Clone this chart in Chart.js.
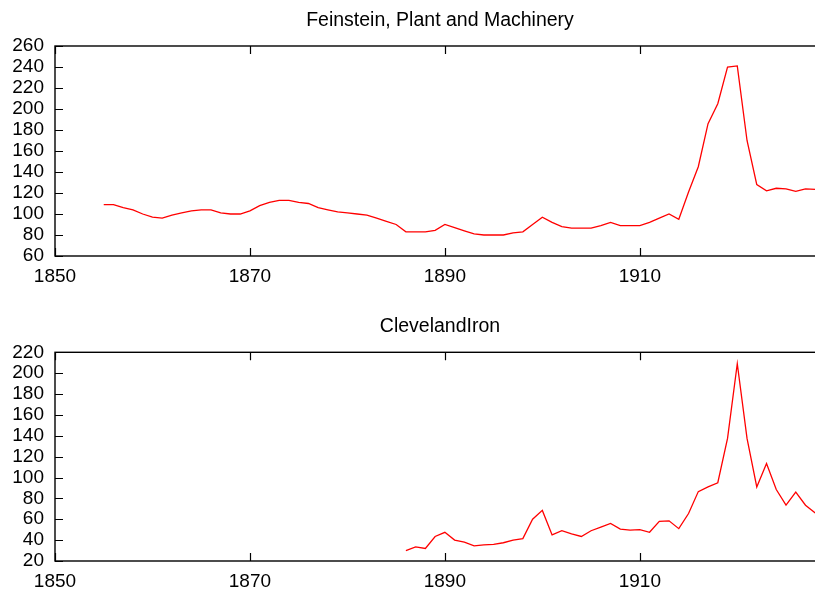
<!DOCTYPE html>
<html>
<head>
<meta charset="utf-8">
<script src="https://cdn.jsdelivr.net/npm/chart.js@4.4.1/dist/chart.umd.min.js"></script>
<style>
  html, body { margin: 0; padding: 0; background: #fff; overflow: hidden; width: 815px; height: 591px; }
  #wrap { position: relative; width: 815px; height: 591px; overflow: hidden; }
  canvas { position: absolute; left: 0; }
  #c1 { top: 0; }
  #c2 { top: 300px; }
</style>
</head>
<body>
<div id="wrap">
  <canvas id="c1" width="840" height="300"></canvas>
  <canvas id="c2" width="840" height="291"></canvas>
</div>
<script>
// ---- Data ----
const topTitle = "Feinstein, Plant and Machinery";
const bottomTitle = "ClevelandIron";

const topYears = [1855,1856,1857,1858,1859,1860,1861,1862,1863,1864,1865,1866,1867,1868,1869,
  1870,1871,1872,1873,1874,1875,1876,1877,1878,1879,1880,1881,1882,1883,1884,1885,1886,1887,1888,1889,
  1890,1891,1892,1893,1894,1895,1896,1897,1898,1899,1900,1901,1902,1903,1904,1905,1906,1907,1908,1909,
  1910,1911,1912,1913,1914,1915,1916,1917,1918,1919,1920,1921,1922,1923,1924,1925,1926,1927,1928];
const topValues = [109,109,106,104,100,97,96,99,101,103,104,104,101,100,100,
  103,108,111,113,113,111,110,106,104,102,101,100,99,96,93,90,83,83,83,84.5,
  90,87,84,81,80,80,80,82,83,90,97,92,88,86.5,86.5,86.5,89,92,89,89,
  89,92,96,100,95,121,145,186,205,240,241,170,128,122,124.5,124,121.5,124,123.5];

const bottomYears = [1886,1887,1888,1889,1890,1891,1892,1893,1894,1895,1896,1897,1898,1899,
  1900,1901,1902,1903,1904,1905,1906,1907,1908,1909,1910,1911,1912,1913,1914,1915,1916,1917,1918,1919,
  1920,1921,1922,1923,1924,1925,1926,1927,1928];
const bottomValues = [30,33.5,32,43.5,47.5,40,38,34.5,35.5,36,37.5,40,41.5,60,
  68.5,45,49,46,43.5,49,52.5,56,50.5,49.5,50,47.5,58,58.5,51,65.5,86.5,91,95,137.5,
  209,137.5,91,113.5,88.5,73.5,86,73.5,66];

const xTickValues = [1850,1870,1890,1910];
const topYTicks = [60,80,100,120,140,160,180,200,220,240,260];
const bottomYTicks = [20,40,60,80,100,120,140,160,180,200,220];

// ---- Helpers ----
const FONT = "'Liberation Sans', Arial, Helvetica, sans-serif";

const framePlugin = {
  id: 'frame',
  afterDatasetsDraw(chart) {
    const { ctx, chartArea: a, scales } = chart;
    const x = scales.x, y = scales.y;
    const tl = 8;
    ctx.save();
    ctx.strokeStyle = '#000';
    ctx.lineWidth = 1.2;
    ctx.beginPath();
    y.ticks.forEach(t => {
      const py = Math.round(y.getPixelForValue(t.value)) + 0.5;
      ctx.moveTo(a.left, py); ctx.lineTo(a.left + tl, py);
      ctx.moveTo(a.right, py); ctx.lineTo(a.right - tl, py);
    });
    x.ticks.forEach(t => {
      const px = Math.round(x.getPixelForValue(t.value)) + 0.5;
      ctx.moveTo(px, a.bottom); ctx.lineTo(px, a.bottom - tl);
      ctx.moveTo(px, a.top); ctx.lineTo(px, a.top + tl);
    });
    ctx.stroke();
    ctx.lineWidth = 1.4;
    ctx.strokeRect(a.left, a.top, a.right - a.left, a.bottom - a.top);
    ctx.restore();
  }
};

function makeChart(id, title, years, values, yMin, yMax, yTicks, titlePad, xHeight) {
  const pts = years.map((yr, i) => ({ x: yr, y: values[i] }));
  return new Chart(document.getElementById(id), {
    type: 'line',
    data: { datasets: [{
      data: pts,
      borderColor: '#ff0000',
      borderWidth: 1.3,
      pointRadius: 0,
      fill: false,
      tension: 0
    }]},
    options: {
      responsive: false,
      animation: false,
      devicePixelRatio: 1,
      layout: { padding: { left: 0, right: 15, top: 0, bottom: 0 } },
      plugins: {
        legend: { display: false },
        tooltip: { enabled: false },
        title: {
          display: true,
          fullSize: false,
          text: title,
          color: '#000',
          font: { family: FONT, size: 19.5, weight: 'normal', lineHeight: 1.2 },
          padding: titlePad
        }
      },
      scales: {
        x: {
          type: 'linear',
          min: 1850,
          max: 1929,
          grid: { display: false, drawTicks: false },
          border: { display: false },
          afterBuildTicks: s => { s.ticks = xTickValues.map(v => ({ value: v })); },
          afterFit: s => { s.height = xHeight; },
          ticks: {
            color: '#000',
            padding: 9,
            maxRotation: 0,
            autoSkip: false,
            font: { family: FONT, size: 19 },
            callback: v => String(v)
          }
        },
        y: {
          type: 'linear',
          min: yMin,
          max: yMax,
          grid: { display: false, drawTicks: false },
          border: { display: false },
          afterBuildTicks: s => { s.ticks = yTicks.map(v => ({ value: v })); },
          afterFit: s => { s.width = 55; },
          ticks: {
            color: '#000',
            padding: 11,
            autoSkip: false,
            font: { family: FONT, size: 19 },
            callback: v => String(v)
          }
        }
      }
    },
    plugins: [framePlugin]
  });
}

makeChart('c1', topTitle, topYears, topValues, 60, 260, topYTicks, { top: 9.3, bottom: 13.3 }, 44);
makeChart('c2', bottomTitle, bottomYears, bottomValues, 20, 220, bottomYTicks, { top: 14.8, bottom: 14.1 }, 30);
</script>
</body>
</html>
